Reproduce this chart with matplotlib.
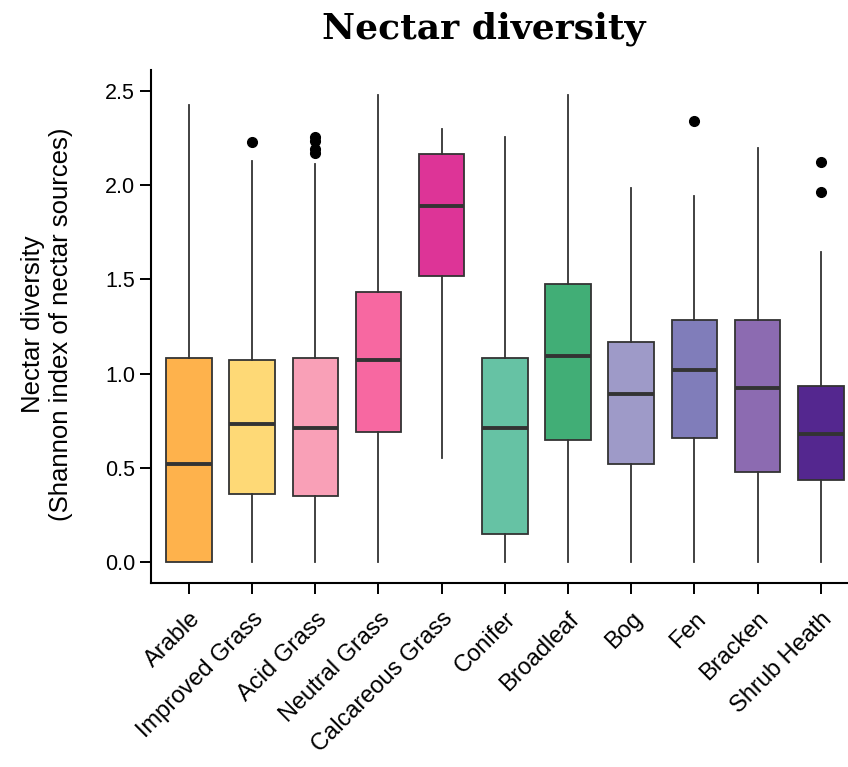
import matplotlib
matplotlib.use("Agg")
import matplotlib.pyplot as plt

# Habitat categories and five-number summaries (Shannon index of nectar sources)
habitats = ["Arable", "Improved Grass", "Acid Grass", "Neutral Grass", "Calcareous Grass",
            "Conifer", "Broadleaf", "Bog", "Fen", "Bracken", "Shrub Heath"]
whisker_low = [0.0, 0.0, 0.0, 0.0, 0.553, 0.0, 0.0, 0.0, 0.0, 0.0, 0.0]
q1 = [0.0, 0.36, 0.35, 0.69, 1.515, 0.15, 0.648, 0.521, 0.659, 0.478, 0.436]
median = [0.519, 0.734, 0.711, 1.073, 1.887, 0.711, 1.095, 0.892, 1.019, 0.923, 0.682]
q3 = [1.084, 1.07, 1.084, 1.432, 2.165, 1.084, 1.476, 1.167, 1.285, 1.285, 0.936]
whisker_high = [2.426, 2.129, 2.108, 2.479, 2.297, 2.256, 2.479, 1.983, 1.939, 2.193, 1.642]
outliers = [[], [2.226], [2.256, 2.23, 2.19, 2.17], [], [], [], [], [], [2.341], [], [2.12, 1.961]]

colors = ["#FEB24C", "#FED976", "#F9A0B7", "#F768A1", "#DD3497",
          "#66C2A4", "#41AE76", "#9E9AC8", "#807DBA", "#8C6BB1", "#54278F"]

stats = []
for i, name in enumerate(habitats):
    stats.append(dict(label=name, whislo=whisker_low[i], q1=q1[i], med=median[i],
                      q3=q3[i], whishi=whisker_high[i], fliers=outliers[i]))

plt.rcParams["font.family"] = ["Liberation Sans", "DejaVu Sans"]

fig = plt.figure(figsize=(8.48, 7.67), dpi=100)
ax = fig.add_axes([0.178, 0.240, 0.825, 0.669])

edge = "#333333"
bp = ax.bxp(stats, positions=range(len(habitats)), widths=0.72, patch_artist=True,
            showcaps=False,
            boxprops=dict(edgecolor=edge, linewidth=1.3),
            whiskerprops=dict(color=edge, linewidth=1.3),
            medianprops=dict(color=edge, linewidth=2.8),
            flierprops=dict(marker="o", markerfacecolor="black", markeredgecolor="black",
                            markersize=7))
for patch, c in zip(bp["boxes"], colors):
    patch.set_facecolor(c)

ax.set_xlim(-0.6, 10.47)
ax.set_ylim(-0.11, 2.61)
ax.set_yticks([0.0, 0.5, 1.0, 1.5, 2.0, 2.5])
ax.set_yticklabels(["0.0", "0.5", "1.0", "1.5", "2.0", "2.5"], fontsize=15.5)
ax.set_xticks(range(len(habitats)))
ax.set_xticklabels(habitats, rotation=45, ha="right", rotation_mode="anchor", fontsize=17)
ax.tick_params(axis="both", length=8, width=1.4, color="black")
ax.tick_params(axis="x", pad=10)

for side in ["top", "right"]:
    ax.spines[side].set_visible(False)
for side in ["left", "bottom"]:
    ax.spines[side].set_linewidth(1.5)
    ax.spines[side].set_color("black")

ax.set_ylabel("Nectar diversity\n(Shannon index of nectar sources)", fontsize=18.5)
ax.yaxis.set_label_coords(-0.112, 0.505)

fig.text(484 / 848, 1 - 38 / 767, "Nectar diversity", ha="center", va="baseline",
         fontsize=26, fontweight="bold", family=["DejaVu Serif"])

fig.savefig("out.png", dpi=100)
